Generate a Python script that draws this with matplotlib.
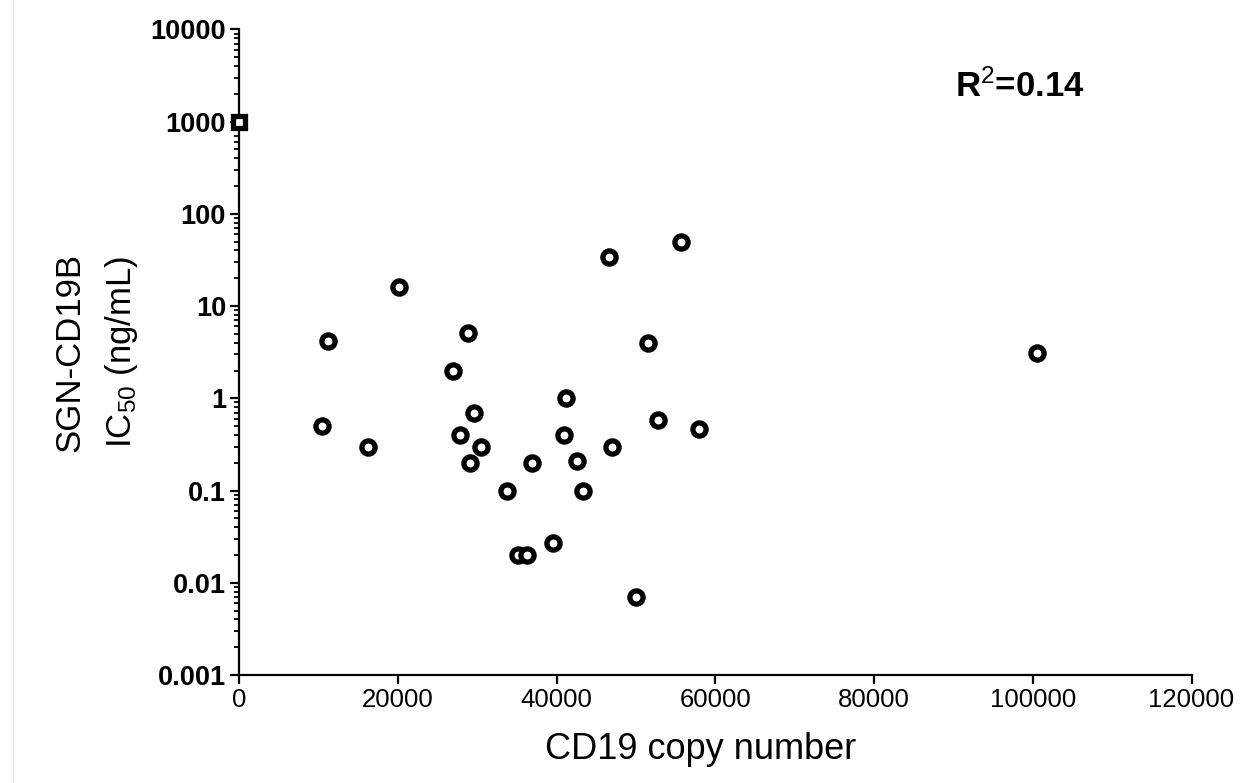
import matplotlib
matplotlib.use('Agg')
import matplotlib.pyplot as plt
from matplotlib.lines import Line2D

# values
copy_number = [10420, 11210, 16250, 20120, 26960, 27850, 28780, 29110, 29600,
               30450, 33690, 35080, 36210, 36920, 39530, 40950, 41130, 42610,
               43340, 46540, 46960, 49980, 51500, 52820, 55620, 57920, 100470]
ic50 = [0.5, 4.2, 0.3, 15.9, 2.0, 0.4, 5.1, 0.2, 0.7,
        0.3, 0.1, 0.02, 0.02, 0.2, 0.027, 0.4, 1.0, 0.21,
        0.1, 33.7, 0.3, 0.007, 4.0, 0.58, 49, 0.46, 3.07]

# censored point drawn as square on the axis
square_x = [0]
square_y = [1000]

x_ticks = [0, 20000, 40000, 60000, 80000, 100000, 120000]
y_ticks = [0.001, 0.01, 0.1, 1, 10, 100, 1000, 10000]
y_tick_labels = ['0.001', '0.01', '0.1', '1', '10', '100', '1000', '10000']
r2_text = 'R$^{2}$=0.14'

plt.rcParams['font.family'] = ['Liberation Sans', 'DejaVu Sans']
plt.rcParams['mathtext.fontset'] = 'custom'
plt.rcParams['mathtext.rm'] = 'Liberation Sans'
plt.rcParams['mathtext.it'] = 'Liberation Sans:italic'
plt.rcParams['mathtext.bf'] = 'Liberation Sans:bold'

W, H = 1244, 783
fig = plt.figure(figsize=(W / 100, H / 100), dpi=100)
ax = fig.add_axes([239.3 / W, (H - 675) / H, 952.2 / W, 645.7 / H])

ax.plot(copy_number, ic50, 'o', ms=9.5, mfc='white', mec='black', mew=3.8,
        linestyle='none', zorder=3)
ax.plot(square_x, square_y, 's', ms=8.5, mfc='white', mec='black', mew=3.8,
        linestyle='none', clip_on=False, zorder=4)

ax.set_yscale('log')
ax.set_xlim(0, 120000)
ax.set_ylim(0.001, 10000)
ax.set_xticks(x_ticks)
ax.set_xticklabels([str(t) for t in x_ticks])
ax.set_yticks(y_ticks)
ax.set_yticklabels(y_tick_labels)
ax.xaxis.set_minor_locator(matplotlib.ticker.NullLocator())
ax.yaxis.set_minor_locator(matplotlib.ticker.LogLocator(base=10, subs=range(2, 10), numticks=20))
ax.yaxis.set_minor_formatter(matplotlib.ticker.NullFormatter())

for s in ['top', 'right']:
    ax.spines[s].set_visible(False)
for s in ['left', 'bottom']:
    ax.spines[s].set_linewidth(1.6)

ax.tick_params(axis='both', which='major', length=6.5, width=1.6, direction='out', pad=3)
ax.tick_params(axis='y', which='minor', length=3.5, width=1.3, direction='out')
ax.tick_params(axis='x', labelsize=18.5)
ax.tick_params(axis='y', labelsize=19.5)
for lab in ax.get_yticklabels():
    lab.set_fontweight('bold')

ax.set_xlabel('CD19 copy number', fontsize=26)
ax.xaxis.set_label_coords(0.484, -0.088)
ax.set_ylabel('SGN-CD19B\nIC$_{50}$ (ng/mL)', fontsize=25, linespacing=1.6)
ax.yaxis.set_label_coords(-0.104, 0.5)

ax.text(0.7516, 0.895, r2_text, transform=ax.transAxes, fontsize=25,
        fontweight='bold', ha='left', va='baseline')

# faint border line at the left of the source image
fig.add_artist(Line2D([13 / W, 13 / W], [0, 1], color='#e6e6e6', lw=1,
                      transform=fig.transFigure))

fig.savefig('out.png', dpi=100)
